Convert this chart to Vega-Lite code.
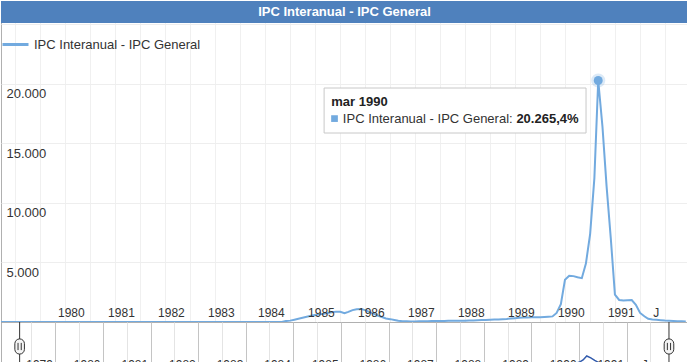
{
  "$schema": "https://vega.github.io/schema/vega-lite/v6.json",
  "padding": 0,
  "spacing": 0,
  "bounds": "flush",
  "background": "white",
  "config": {
    "font": "Liberation Sans",
    "view": {"stroke": "#b0b0b0"},
    "concat": {"spacing": 0},
    "locale": {
      "number": {"decimal": ",", "thousands": ".", "grouping": [3], "currency": ["", " €"]},
      "time": {
        "dateTime": "%A, %e de %B de %Y, %X",
        "date": "%d/%m/%Y",
        "time": "%H:%M:%S",
        "periods": ["AM", "PM"],
        "days": ["domingo", "lunes", "martes", "miércoles", "jueves", "viernes", "sábado"],
        "shortDays": ["dom", "lun", "mar", "mié", "jue", "vie", "sáb"],
        "months": ["enero", "febrero", "marzo", "abril", "mayo", "junio", "julio", "agosto", "septiembre", "octubre", "noviembre", "diciembre"],
        "shortMonths": ["ene", "feb", "mar", "abr", "may", "jun", "jul", "ago", "sep", "oct", "nov", "dic"]
      }
    }
  },
  "datasets": {
    "ipc": [
      {"fecha": "1978-01-01", "valor": 0},
      {"fecha": "1983-11-01", "valor": 0},
      {"fecha": "1983-12-01", "valor": 80},
      {"fecha": "1984-01-01", "valor": 115},
      {"fecha": "1984-02-01", "valor": 190},
      {"fecha": "1984-03-01", "valor": 265},
      {"fecha": "1984-04-01", "valor": 350},
      {"fecha": "1984-05-01", "valor": 440},
      {"fecha": "1984-06-01", "valor": 520},
      {"fecha": "1984-07-01", "valor": 580},
      {"fecha": "1984-08-01", "valor": 640},
      {"fecha": "1984-09-01", "valor": 700},
      {"fecha": "1984-10-01", "valor": 760},
      {"fecha": "1984-11-01", "valor": 820},
      {"fecha": "1984-12-01", "valor": 870},
      {"fecha": "1985-01-01", "valor": 860},
      {"fecha": "1985-02-01", "valor": 740},
      {"fecha": "1985-03-01", "valor": 850},
      {"fecha": "1985-04-01", "valor": 1000},
      {"fecha": "1985-05-01", "valor": 1075},
      {"fecha": "1985-06-01", "valor": 1100},
      {"fecha": "1985-07-01", "valor": 1000},
      {"fecha": "1985-08-01", "valor": 850},
      {"fecha": "1985-09-01", "valor": 700},
      {"fecha": "1985-10-01", "valor": 550},
      {"fecha": "1985-11-01", "valor": 420},
      {"fecha": "1985-12-01", "valor": 300},
      {"fecha": "1986-01-01", "valor": 240},
      {"fecha": "1986-02-01", "valor": 170},
      {"fecha": "1986-03-01", "valor": 110},
      {"fecha": "1986-04-01", "valor": 60},
      {"fecha": "1986-05-01", "valor": 55},
      {"fecha": "1986-06-01", "valor": 50},
      {"fecha": "1986-07-01", "valor": 50},
      {"fecha": "1986-08-01", "valor": 55},
      {"fecha": "1986-09-01", "valor": 60},
      {"fecha": "1986-10-01", "valor": 65},
      {"fecha": "1986-11-01", "valor": 75},
      {"fecha": "1986-12-01", "valor": 80},
      {"fecha": "1987-01-01", "valor": 85},
      {"fecha": "1987-02-01", "valor": 90},
      {"fecha": "1987-03-01", "valor": 95},
      {"fecha": "1987-04-01", "valor": 100},
      {"fecha": "1987-05-01", "valor": 100},
      {"fecha": "1987-06-01", "valor": 105},
      {"fecha": "1987-07-01", "valor": 110},
      {"fecha": "1987-08-01", "valor": 120},
      {"fecha": "1987-09-01", "valor": 130},
      {"fecha": "1987-10-01", "valor": 150},
      {"fecha": "1987-11-01", "valor": 165},
      {"fecha": "1987-12-01", "valor": 175},
      {"fecha": "1988-01-01", "valor": 185},
      {"fecha": "1988-02-01", "valor": 200},
      {"fecha": "1988-03-01", "valor": 220},
      {"fecha": "1988-04-01", "valor": 240},
      {"fecha": "1988-05-01", "valor": 260},
      {"fecha": "1988-06-01", "valor": 290},
      {"fecha": "1988-07-01", "valor": 320},
      {"fecha": "1988-08-01", "valor": 350},
      {"fecha": "1988-09-01", "valor": 370},
      {"fecha": "1988-10-01", "valor": 385},
      {"fecha": "1988-11-01", "valor": 390},
      {"fecha": "1988-12-01", "valor": 390},
      {"fecha": "1989-01-01", "valor": 400},
      {"fecha": "1989-02-01", "valor": 420},
      {"fecha": "1989-03-01", "valor": 440},
      {"fecha": "1989-04-01", "valor": 470},
      {"fecha": "1989-05-01", "valor": 760},
      {"fecha": "1989-06-01", "valor": 1500},
      {"fecha": "1989-07-01", "valor": 3540},
      {"fecha": "1989-08-01", "valor": 3880},
      {"fecha": "1989-09-01", "valor": 3850},
      {"fecha": "1989-10-01", "valor": 3750},
      {"fecha": "1989-11-01", "valor": 3680},
      {"fecha": "1989-12-01", "valor": 4900},
      {"fecha": "1990-01-01", "valor": 7400},
      {"fecha": "1990-02-01", "valor": 12100},
      {"fecha": "1990-03-01", "valor": 20265.4},
      {"fecha": "1990-04-01", "valor": 16400},
      {"fecha": "1990-05-01", "valor": 11400},
      {"fecha": "1990-06-01", "valor": 7000},
      {"fecha": "1990-07-01", "valor": 2300},
      {"fecha": "1990-08-01", "valor": 1850},
      {"fecha": "1990-09-01", "valor": 1800},
      {"fecha": "1990-10-01", "valor": 1820},
      {"fecha": "1990-11-01", "valor": 1840},
      {"fecha": "1990-12-01", "valor": 1450},
      {"fecha": "1991-01-01", "valor": 760},
      {"fecha": "1991-02-01", "valor": 480},
      {"fecha": "1991-03-01", "valor": 270},
      {"fecha": "1991-04-01", "valor": 210},
      {"fecha": "1991-05-01", "valor": 180},
      {"fecha": "1991-06-01", "valor": 150},
      {"fecha": "1991-07-01", "valor": 120},
      {"fecha": "1991-08-01", "valor": 100},
      {"fecha": "1991-09-01", "valor": 85},
      {"fecha": "1991-10-01", "valor": 70},
      {"fecha": "1991-11-01", "valor": 55},
      {"fecha": "1991-12-01", "valor": 45}
    ]
  },
  "vconcat": [
    {
      "width": 687,
      "height": 321,
      "resolve": {"axis": {"x": "independent"}},
      "layer": [
        {
          "data": {"values": [{}]},
          "mark": {"type": "rect", "color": "#4f81bd"},
          "encoding": {
            "y": {"datum": 25093, "type": "quantitative"},
            "y2": {"datum": 26939}
          }
        },
        {
          "data": {"values": [{}]},
          "mark": {"type": "text", "color": "white", "fontWeight": "bold", "fontSize": 13, "baseline": "middle", "align": "center"},
          "encoding": {
            "y": {"datum": 26015, "type": "quantitative"},
            "text": {"value": "IPC Interanual - IPC General"}
          }
        },
        {
          "data": {"name": "ipc"},
          "mark": {"type": "line", "clip": true, "strokeWidth": 2},
          "encoding": {
            "x": {
              "field": "fecha",
              "type": "temporal",
              "scale": {
                "type": "utc",
                "domain": [
                  {"year": 1978, "month": 3, "date": 20, "utc": true},
                  {"year": 1991, "month": 12, "date": 17, "utc": true}
                ]
              },
              "axis": {
                "orient": "bottom",
                "title": null,
                "tickCount": {"interval": "month", "step": 6},
                "labels": false,
                "grid": true,
                "gridColor": "#f0f0f0",
                "ticks": false,
                "domain": true,
                "domainColor": "#333333"
              }
            },
            "y": {
              "field": "valor",
              "type": "quantitative",
              "scale": {"domain": [0, 26939], "nice": false, "zero": true},
              "axis": {
                "title": null,
                "values": [0, 2500, 5000, 7500, 10000, 12500, 15000, 17500, 20000, 22500, 25000],
                "format": ",d",
                "labelExpr": "datum.value % 5000 == 0 && datum.value > 0 && datum.value < 25000 ? datum.label : ''",
                "grid": true,
                "gridColor": "#eeeeee",
                "ticks": false,
                "domain": false,
                "labelAlign": "left",
                "labelBaseline": "top",
                "labelPadding": -5,
                "labelOffset": 4,
                "labelFontSize": 13,
                "labelColor": "#333333",
                "labelFlush": false,
                "labelOverlap": false
              }
            },
            "color": {
              "datum": "IPC Interanual - IPC General",
              "type": "nominal",
              "scale": {"range": ["#72aadf"]},
              "legend": {
                "orient": "none",
                "legendX": 0,
                "legendY": 29,
                "title": null,
                "padding": 0,
                "symbolType": "stroke",
                "symbolSize": 676,
                "symbolStrokeWidth": 3,
                "labelFontSize": 13,
                "labelColor": "#333333",
                "labelOffset": 4,
                "labelLimit": 400
              }
            }
          }
        },
        {
          "data": {"name": "ipc"},
          "transform": [{"filter": "datum.valor > 20000"}],
          "mark": {"type": "point", "filled": true, "color": "#72aadf", "size": 200, "opacity": 0.25},
          "encoding": {
            "x": {
              "field": "fecha",
              "type": "temporal",
              "axis": {
                "orient": "bottom",
                "title": null,
                "tickCount": {"interval": "month", "step": 6},
                "labelExpr": "utcmonth(datum.value) == 6 ? (utcyear(datum.value) == 1991 ? 'J' : '') : (utcyear(datum.value) >= 1980 ? utcFormat(datum.value, '%Y') : '')",
                "grid": false,
                "ticks": false,
                "domain": false,
                "labelAlign": "right",
                "labelBaseline": "middle",
                "labelPadding": -10,
                "labelOffset": -6,
                "labelFontSize": 12,
                "labelColor": "#333333",
                "labelFlush": false,
                "labelOverlap": false,
                "zindex": 1
              }
            },
            "y": {"field": "valor", "type": "quantitative"}
          }
        },
        {
          "data": {"name": "ipc"},
          "transform": [{"filter": "datum.valor > 20000"}],
          "mark": {"type": "point", "filled": true, "color": "#72aadf", "size": 80, "opacity": 1},
          "encoding": {
            "x": {"field": "fecha", "type": "temporal", "axis": null},
            "y": {"field": "valor", "type": "quantitative"}
          }
        },
        {
          "data": {"values": [{}]},
          "mark": {"type": "rect", "fill": "#ffffff", "stroke": "#c8c8c8", "strokeWidth": 1},
          "encoding": {
            "x": {"datum": {"year": 1984, "month": 9, "date": 5, "utc": true}, "type": "temporal", "axis": null},
            "x2": {"datum": {"year": 1989, "month": 12, "date": 2, "utc": true}},
            "y": {"datum": 19637, "type": "quantitative"},
            "y2": {"datum": 15861}
          }
        },
        {
          "data": {"values": [{}]},
          "mark": {"type": "text", "fontWeight": "bold", "fontSize": 13, "color": "#222222", "align": "left", "baseline": "middle"},
          "encoding": {
            "x": {"datum": {"year": 1984, "month": 10, "date": 27, "utc": true}, "type": "temporal", "axis": null},
            "y": {"datum": 18488, "type": "quantitative"},
            "text": {"value": "mar 1990"}
          }
        },
        {
          "data": {"values": [{}]},
          "mark": {"type": "point", "shape": "square", "filled": true, "color": "#72aadf", "size": 45, "opacity": 1},
          "encoding": {
            "x": {"datum": {"year": 1984, "month": 11, "date": 20, "utc": true}, "type": "temporal", "axis": null},
            "y": {"datum": 17070, "type": "quantitative"}
          }
        },
        {
          "data": {"values": [{}]},
          "mark": {"type": "text", "fontSize": 13, "color": "#333333", "align": "left", "baseline": "middle"},
          "encoding": {
            "x": {"datum": {"year": 1985, "month": 1, "date": 20, "utc": true}, "type": "temporal", "axis": null},
            "y": {"datum": 17070, "type": "quantitative"},
            "text": {"value": "IPC Interanual - IPC General:"}
          }
        },
        {
          "data": {"values": [{}]},
          "mark": {"type": "text", "fontSize": 13, "fontWeight": "bold", "color": "#222222", "align": "left", "baseline": "middle"},
          "encoding": {
            "x": {"datum": {"year": 1988, "month": 7, "date": 11, "utc": true}, "type": "temporal", "axis": null},
            "y": {"datum": 17070, "type": "quantitative"},
            "text": {"value": "20.265,4%"}
          }
        }
      ]
    },
    {
      "width": 687,
      "height": 44,
      "layer": [
        {
          "data": {"name": "ipc"},
          "mark": {"type": "line", "color": "#335cad", "strokeWidth": 1.5, "clip": true},
          "encoding": {
            "x": {
              "field": "fecha",
              "type": "temporal",
              "scale": {
                "type": "utc",
                "domain": [
                  {"year": 1977, "month": 11, "date": 9, "utc": true},
                  {"year": 1992, "month": 4, "date": 16, "utc": true}
                ]
              },
              "axis": {
                "title": null,
                "tickCount": {"interval": "month", "step": 6},
                "labelExpr": "utcmonth(datum.value) == 6 ? (utcyear(datum.value) == 1991 ? 'J' : '') : (utcyear(datum.value) >= 1979 && utcyear(datum.value) <= 1991 ? utcFormat(datum.value, '%Y') : '')",
                "grid": true,
                "gridColor": {"condition": {"test": "utcmonth(datum.value) == 0", "value": "#c4c4c4"}, "value": "#e4e4e4"},
                "gridOpacity": {"condition": {"test": "utcyear(datum.value) < 1978 || utcyear(datum.value) > 1991 || (utcyear(datum.value) == 1978 && utcmonth(datum.value) == 0)", "value": 0}, "value": 1},
                "ticks": false,
                "domain": false,
                "labelAlign": "right",
                "labelBaseline": "top",
                "labelPadding": -7,
                "labelOffset": -3,
                "labelFontSize": 12,
                "labelColor": "#333333",
                "labelFlush": false,
                "labelOverlap": false
              }
            },
            "y": {
              "field": "valor",
              "type": "quantitative",
              "scale": {"domain": [0, 89000], "nice": false},
              "axis": null
            }
          }
        },
        {
          "data": {"values": [{}]},
          "mark": {"type": "rule", "color": "#333333", "strokeWidth": 1},
          "encoding": {
            "x": {"datum": {"year": 1978, "month": 4, "date": 1, "utc": true}, "type": "temporal"}
          }
        },
        {
          "data": {"values": [{}]},
          "mark": {"type": "rule", "color": "#333333", "strokeWidth": 1},
          "encoding": {
            "x": {"datum": {"year": 1991, "month": 11, "date": 22, "utc": true}, "type": "temporal"}
          }
        },
        {
          "data": {"values": [{}]},
          "mark": {
            "type": "point",
            "shape": "M-0.6,-0.35 A0.6,0.6 0 0 1 0.6,-0.35 L0.6,0.35 A0.6,0.6 0 0 1 -0.6,0.35 Z M-0.2,-0.45 L-0.2,0.45 M0.2,-0.45 L0.2,0.45",
            "fill": "#f4f4f4",
            "stroke": "#333333",
            "strokeWidth": 1,
            "size": 256,
            "opacity": 1
          },
          "encoding": {
            "x": {"datum": {"year": 1978, "month": 4, "date": 1, "utc": true}, "type": "temporal"},
            "y": {"datum": 39443, "type": "quantitative"}
          }
        },
        {
          "data": {"values": [{}]},
          "mark": {
            "type": "point",
            "shape": "M-0.6,-0.35 A0.6,0.6 0 0 1 0.6,-0.35 L0.6,0.35 A0.6,0.6 0 0 1 -0.6,0.35 Z M-0.2,-0.45 L-0.2,0.45 M0.2,-0.45 L0.2,0.45",
            "fill": "#f4f4f4",
            "stroke": "#333333",
            "strokeWidth": 1,
            "size": 256,
            "opacity": 1
          },
          "encoding": {
            "x": {"datum": {"year": 1991, "month": 11, "date": 22, "utc": true}, "type": "temporal"},
            "y": {"datum": 39443, "type": "quantitative"}
          }
        }
      ]
    }
  ]
}
